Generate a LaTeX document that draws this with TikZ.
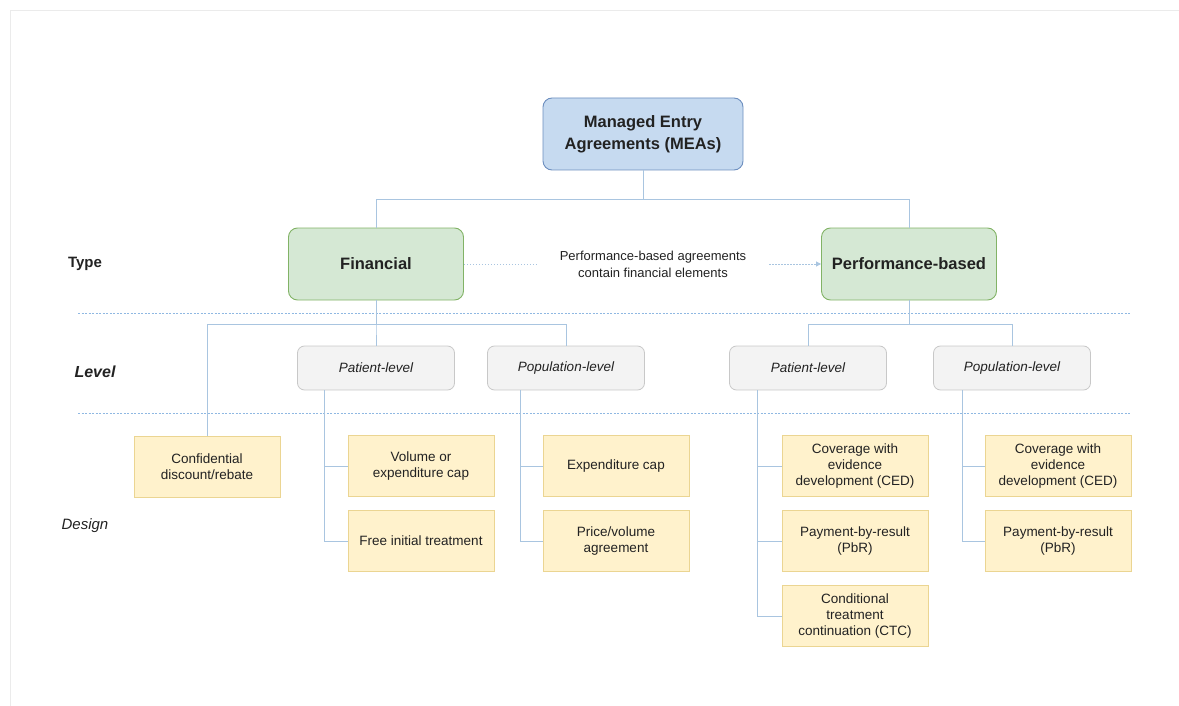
\documentclass[tikz,border=0pt]{standalone}
\usepackage{fontspec}
\setmainfont{Liberation Sans}
\usetikzlibrary{arrows.meta}
\definecolor{meafill}{HTML}{C6DAF0}
\definecolor{mealine}{HTML}{6C8EBF}
\definecolor{typefill}{HTML}{D5E8D4}
\definecolor{typeline}{HTML}{82B366}
\definecolor{levelfill}{HTML}{F3F3F3}
\definecolor{levelline}{HTML}{C8C8C8}
\definecolor{designfill}{HTML}{FFF2CC}
\definecolor{designline}{HTML}{EBD592}
\definecolor{linkcol}{HTML}{A9C5E0}
\definecolor{sepcol}{HTML}{8FB8E2}
\definecolor{textcol}{HTML}{222222}
\begin{document}
\begin{tikzpicture}[x=1pt,y=-1pt,every node/.style={text=textcol},
    mea/.style={draw=mealine,fill=meafill,rounded corners=9pt,line width=0.9pt,
      minimum width=200pt,minimum height=72pt,align=center,
      font=\fontsize{16.5}{22}\selectfont\bfseries},
    typebox/.style={draw=typeline,fill=typefill,rounded corners=9pt,line width=0.9pt,
      minimum width=175pt,minimum height=72pt,font=\fontsize{16.5}{20}\selectfont\bfseries},
    levelbox/.style={draw=levelline,fill=levelfill,rounded corners=7pt,line width=0.8pt,
      minimum width=157pt,minimum height=44pt,font=\fontsize{13.5}{16}\selectfont\itshape},
    designbox/.style={draw=designline,fill=designfill,line width=0.9pt,
      minimum width=146pt,minimum height=61pt,align=center,
      font=\fontsize{13.5}{16}\selectfont},
    link/.style={draw=linkcol,line width=0.9pt},
    sep/.style={draw=sepcol,line width=0.8pt,dash pattern=on 2pt off 1.5pt}]
  \useasboundingbox (0,0) rectangle (1179,706);
  % frame
  \draw[black!8,line width=0.8pt] (10,706) -- (10,10) -- (1179,10);
  % rows
  \node[font=\fontsize{15}{18}\selectfont\bfseries] (type) at (85,264) {Type};
  \node[font=\fontsize{16}{18}\selectfont\bfseries\itshape] (level) at (95,372) {Level};
  \node[font=\fontsize{15}{18}\selectfont\itshape] (design) at (85,526) {Design};
  \draw[sep] (78,313) -- (1130,313);
  \draw[sep] (78,413) -- (1130,413);
  % top and type
  \node[mea] (meas) at (643,134) {Managed Entry\\Agreements (MEAs)};
  \node[typebox] (fin) at (376,264) {Financial};
  \node[typebox] (perf) at (909,264) {Performance-based};
  \node[align=center,font=\fontsize{13}{17}\selectfont,inner xsep=0pt,outer xsep=23pt]
    (note) at (653,264) {Performance-based agreements\\contain financial elements};
  \draw[link,dash pattern=on 1.5pt off 1.5pt] (fin) -- (note);
  \draw[link,dash pattern=on 1.5pt off 1.5pt,-{Triangle[length=5pt,width=5pt]}] (note) -- (perf);
  \draw[link] (meas.south) -- ++(0,29) -| (fin.north);
  \draw[link] (meas.south) -- ++(0,29) -| (perf.north);
  % level
  \node[levelbox] (fpat) at (376,368) {Patient-level};
  \node[levelbox] (fpop) at (566,368) {Population-level};
  \node[levelbox] (ppat) at (808,368) {Patient-level};
  \node[levelbox] (ppop) at (1012,368) {Population-level};
  % design
  \node[designbox] (conf) at (207,467) {Confidential\\discount/rebate};
  \node[designbox] (vol) at (421,466) {Volume or\\expenditure cap};
  \node[designbox] (free) at (421,541) {Free initial treatment};
  \node[designbox] (expc) at (616,466) {Expenditure cap};
  \node[designbox] (price) at (616,541) {Price/volume\\agreement};
  \node[designbox] (pced) at (855,466) {Coverage with\\evidence\\development (CED)};
  \node[designbox] (ppbr) at (855,541) {Payment-by-result\\(PbR)};
  \node[designbox] (pctc) at (855,616) {Conditional\\treatment\\continuation (CTC)};
  \node[designbox] (oced) at (1058,466) {Coverage with\\evidence\\development (CED)};
  \node[designbox] (opbr) at (1058,541) {Payment-by-result\\(PbR)};
  % links
  \draw[link] (fin.south) -- ++(0,24) -| (conf.north);
  \draw[link] (fin.south) -- ++(0,24) -| (fpat.north);
  \draw[link] (fin.south) -- ++(0,24) -| (fpop.north);
  \draw[link] (perf.south) -- ++(0,24) -| (ppat.north);
  \draw[link] (perf.south) -- ++(0,24) -| (ppop.north);
  \draw[link] (fpat.south west) ++(27,0) |- (vol.west);
  \draw[link] (fpat.south west) ++(27,0) |- (free.west);
  \draw[link] (fpop.south west) ++(33,0) |- (expc.west);
  \draw[link] (fpop.south west) ++(33,0) |- (price.west);
  \draw[link] (ppat.south west) ++(28,0) |- (pced.west);
  \draw[link] (ppat.south west) ++(28,0) |- (ppbr.west);
  \draw[link] (ppat.south west) ++(28,0) |- (pctc.west);
  \draw[link] (ppop.south west) ++(29,0) |- (oced.west);
  \draw[link] (ppop.south west) ++(29,0) |- (opbr.west);
\end{tikzpicture}
\end{document}
